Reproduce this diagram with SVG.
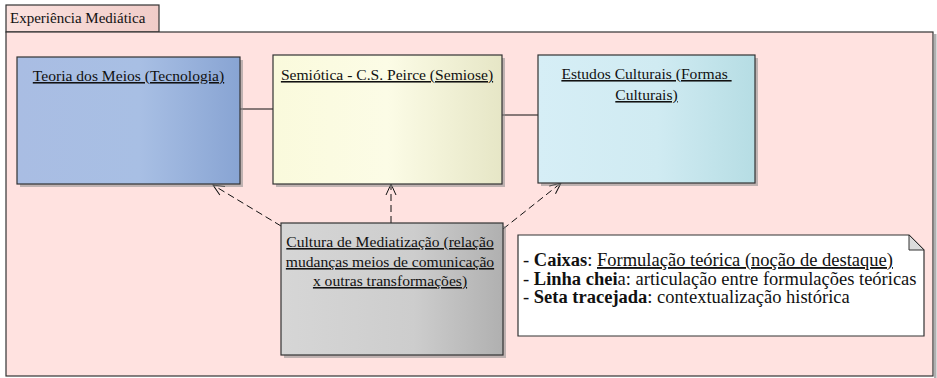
<svg xmlns="http://www.w3.org/2000/svg" width="937" height="378" viewBox="0 0 937 378">
<style>
text{font-family:"Liberation Serif","Times New Roman",serif;fill:#111;}
.t{font-size:15.6px;text-anchor:middle;text-decoration:underline;}
.n{font-size:18.5px;}
.b{font-weight:bold;}
.u{text-decoration:underline;}
.box{stroke:#333;stroke-width:1.2;}
.sh{fill:#8a8a8a;opacity:0.55;}
.solid{stroke:#111;stroke-width:1;fill:none;}
.dash{stroke:#111;stroke-width:1;fill:none;stroke-dasharray:7,4;}
</style>
<defs>
<linearGradient id="gTab" x1="0" y1="0" x2="1" y2="0"><stop offset="0" stop-color="#fbe2df"/><stop offset="1" stop-color="#f0ccc8"/></linearGradient>
<linearGradient id="g1" x1="0" y1="0" x2="1" y2="0"><stop offset="0" stop-color="#a9bde3"/><stop offset="0.55" stop-color="#a8bfe4"/><stop offset="1" stop-color="#88a4d3"/></linearGradient>
<linearGradient id="g2" x1="0" y1="0" x2="1" y2="0"><stop offset="0" stop-color="#fafadc"/><stop offset="0.5" stop-color="#fcfce6"/><stop offset="1" stop-color="#e6e6c6"/></linearGradient>
<linearGradient id="g3" x1="0" y1="0" x2="1" y2="0"><stop offset="0" stop-color="#d6eef6"/><stop offset="0.55" stop-color="#d0ebf2"/><stop offset="1" stop-color="#b6dde4"/></linearGradient>
<linearGradient id="g4" x1="0" y1="0" x2="1" y2="0"><stop offset="0" stop-color="#d6d6d6"/><stop offset="0.6" stop-color="#cdcdcd"/><stop offset="1" stop-color="#b0b0b0"/></linearGradient>
<marker id="arr" markerUnits="userSpaceOnUse" markerWidth="14" markerHeight="14" viewBox="-12 -7 14 14" refX="0" refY="0" orient="auto">
<path d="M-11,-5 L0,0 L-11,5" fill="none" stroke="#111" stroke-width="1"/>
</marker>
</defs>

<g id="frame">
<rect x="934" y="34" width="2.5" height="344" fill="#b0b0b0"/>
<rect x="6" y="5" width="153" height="27" fill="url(#gTab)" stroke="#333" stroke-width="1.2"/>
<rect x="6" y="32" width="927" height="344" fill="#ffe2e0" stroke="#333" stroke-width="1.2"/>
<text x="10" y="23" style="font-size:15px">Experiência Mediática</text>
</g>

<g id="connectors">
<line class="solid" x1="240" y1="109" x2="273" y2="109"/>
<line class="solid" x1="502" y1="115" x2="538" y2="115"/>
<line class="dash" x1="281" y1="226" x2="213" y2="185" marker-end="url(#arr)"/>
<line class="dash" x1="391" y1="223" x2="391" y2="184" marker-end="url(#arr)"/>
<line class="dash" x1="503" y1="229" x2="561" y2="183" marker-end="url(#arr)"/>
</g>

<g id="teoria">
<rect class="sh" x="20" y="60" width="223" height="127"/>
<rect class="box" x="17" y="57" width="223" height="127" fill="url(#g1)"/>
<text class="t" x="128.5" y="81">Teoria dos Meios (Tecnologia)</text>
</g>

<g id="semiotica">
<rect class="sh" x="276" y="58" width="229" height="129"/>
<rect class="box" x="273" y="55" width="229" height="129" fill="url(#g2)"/>
<text class="t" x="387" y="80">Semiótica - C.S. Peirce (Semiose)</text>
</g>

<g id="estudos">
<rect class="sh" x="541" y="58" width="217" height="128"/>
<rect class="box" x="538" y="55" width="217" height="128" fill="url(#g3)"/>
<text class="t" x="646.5" y="79" xml:space="preserve">Estudos Culturais (Formas </text>
<text class="t" x="646.5" y="100">Culturais)</text>
</g>

<g id="cultura">
<rect class="sh" x="284" y="226" width="222" height="132"/>
<rect class="box" x="281" y="223" width="222" height="132" fill="url(#g4)"/>
<text class="t" x="390" y="247">Cultura de Mediatização (relação</text>
<text class="t" x="390" y="267">mudanças meios de comunicação</text>
<text class="t" x="390" y="286">x outras transformações)</text>
</g>

<g id="nota">
<path d="M518,235 H909 L924,250 V336 H518 Z" fill="#ffffff" stroke="#333" stroke-width="1.2"/>
<path d="M909,235 V250 H924 Z" fill="#dcdcdc" stroke="#333" stroke-width="1"/>
<text class="n" x="523" y="266" xml:space="preserve">- <tspan class="b">Caixas</tspan>: <tspan class="u">Formulação teórica (noção de destaque)</tspan></text>
<text class="n" x="523" y="284.5" xml:space="preserve">- <tspan class="b">Linha chei</tspan>a: articulação entre formulações teóricas</text>
<text class="n" x="523" y="302.5" xml:space="preserve">- <tspan class="b">Seta tracejada</tspan>: contextualização histórica</text>
</g>
</svg>
